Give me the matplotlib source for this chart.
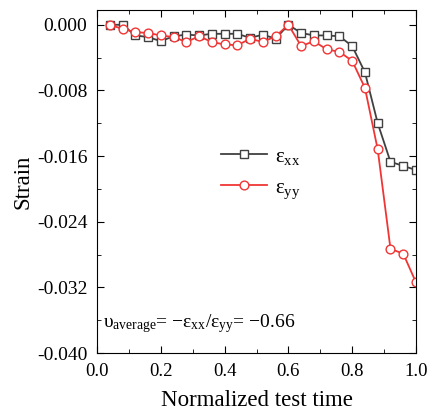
import matplotlib
matplotlib.use('Agg')
import matplotlib.pyplot as plt
from matplotlib.ticker import MultipleLocator, FuncFormatter

plt.rcParams['font.family'] = ['Liberation Serif', 'DejaVu Serif']
plt.rcParams['mathtext.fontset'] = 'custom'
plt.rcParams['mathtext.rm'] = 'Liberation Serif'
plt.rcParams['mathtext.it'] = 'Liberation Serif'

# data
time = [0.04, 0.08, 0.12, 0.16, 0.20, 0.24, 0.28, 0.32, 0.36, 0.40,
        0.44, 0.48, 0.52, 0.56, 0.60, 0.64, 0.68, 0.72, 0.76, 0.80,
        0.84, 0.88, 0.92, 0.96, 1.00]
eps_xx = [0.0000, 0.0000, -0.0013, -0.0015, -0.0020, -0.0014, -0.0012, -0.0013,
          -0.0011, -0.0011, -0.0011, -0.0016, -0.0012, -0.0017, 0.0000, -0.0010,
          -0.0013, -0.0013, -0.0014, -0.0026, -0.0058, -0.0120, -0.0167, -0.0172,
          -0.0177]
eps_yy = [0.0000, -0.0005, -0.0009, -0.0010, -0.0013, -0.0015, -0.0021, -0.0014,
          -0.0021, -0.0024, -0.0025, -0.0017, -0.0021, -0.0014, 0.0000, -0.0026,
          -0.0020, -0.0030, -0.0033, -0.0044, -0.0077, -0.0152, -0.0273, -0.0279,
          -0.0314]

fig = plt.figure(figsize=(4.3, 4.12), dpi=100)
ax = fig.add_axes([97 / 430, 1 - 353 / 412, 319 / 430, 343 / 412])

ax.plot(time, eps_xx, '-s', color='#404040', mfc='white', mec='#404040',
        ms=5.5, mew=1.0, lw=1.3, label=r'$\mathregular{\epsilon_{xx}}$')
ax.plot(time, eps_yy, '-o', color='#f03535', mfc='white', mec='#f03535',
        ms=6.3, mew=1.0, lw=1.3, label=r'$\mathregular{\epsilon_{yy}}$')

ax.set_xlim(0, 1.0)
ax.set_ylim(-0.040, 0.0018)
ax.xaxis.set_major_locator(MultipleLocator(0.2))
ax.xaxis.set_minor_locator(MultipleLocator(0.1))
ax.yaxis.set_major_locator(MultipleLocator(0.008))
ax.yaxis.set_minor_locator(MultipleLocator(0.004))
ax.yaxis.set_major_formatter(FuncFormatter(lambda v, p: f'{v:.3f}' if abs(v) > 1e-9 else '0.000'))
ax.xaxis.set_major_formatter(FuncFormatter(lambda v, p: f'{v:.1f}'))
ax.tick_params(which='both', direction='in', top=True, right=True)
ax.tick_params(axis='y', labelsize=14, pad=7)
ax.tick_params(axis='x', labelsize=13.5, pad=7.5)
ax.tick_params(which='major', length=5)
ax.tick_params(which='minor', length=3)

ax.set_xlabel('Normalized test time', fontsize=16.5, labelpad=7)
ax.set_ylabel('Strain', fontsize=16.5, labelpad=2)

leg = ax.legend(loc='upper left', bbox_to_anchor=(0.33, 0.655), frameon=False,
                fontsize=15, handlelength=2.2, handletextpad=0.4, labelspacing=0.55)

ax.text(0.02, -0.0369,
        r'$\mathregular{\upsilon_{average}}$= $-$$\mathregular{\epsilon_{xx}}$/$\mathregular{\epsilon_{yy}}$= $-$0.66',
        fontsize=14)

fig.savefig('out.png', dpi=100)
